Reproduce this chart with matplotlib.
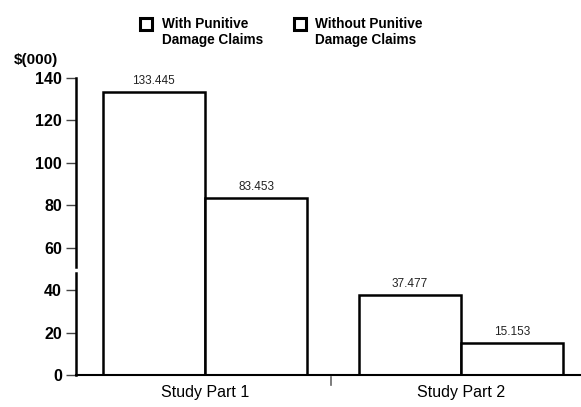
import numpy as np
import matplotlib
matplotlib.use("Agg")
import matplotlib.pyplot as plt
from matplotlib.lines import Line2D

plt.rcParams['font.family'] = ['Liberation Sans', 'DejaVu Sans']

# average award per case, $(000)
groups = ["Study Part 1", "Study Part 2"]
with_punitive = [133.445, 37.477]
without_punitive = [83.453, 15.153]
series_names = ["With Punitive\nDamage Claims", "Without Punitive\nDamage Claims"]
yticks = [0, 20, 40, 60, 80, 100, 120, 140]

fig = plt.figure(figsize=(5.81, 4.07), dpi=100)
ax = fig.add_axes([0.1308, 0.0786, 0.8692, 0.7298])

x = np.arange(len(groups))
w = 0.40
b1 = ax.bar(x - w / 2, with_punitive, w, color="white", edgecolor="black", linewidth=1.8)
b2 = ax.bar(x + w / 2, without_punitive, w, color="white", edgecolor="black", linewidth=1.8)

for bars, vals in [(b1, with_punitive), (b2, without_punitive)]:
    for r, v in zip(bars, vals):
        ax.text(r.get_x() + r.get_width() / 2, v + 2.5, f"{v:.3f}", ha="center", va="bottom",
                fontsize=8.5, color="#222222")

ax.set_xlim(-0.504, 1.469)
ax.set_ylim(0, 140)
ax.set_yticks(yticks)
ax.set_yticklabels([str(t) for t in yticks], fontsize=11.5, fontweight="bold")
ax.set_xticks(x)
ax.set_xticklabels(groups, fontsize=11.5)
ax.tick_params(axis="x", length=0, pad=7)
ax.tick_params(axis="y", length=7, width=1.0, direction="out", pad=3, color="#444444")

for s in ["top", "right", "left"]:
    ax.spines[s].set_visible(False)
ax.spines["bottom"].set_linewidth(1.5)

# y axis drawn in two pieces with a small break between 40 and 60
ax.plot([0, 0], [0, 48], transform=ax.get_yaxis_transform(), color="black", lw=1.8,
        clip_on=False)
ax.plot([0, 0], [51, 140], transform=ax.get_yaxis_transform(), color="black", lw=1.8,
        clip_on=False)
# small mark under the x axis between the two groups
ax.plot([0.492, 0.492], [-1, -4.5], color="#666666", lw=1.2, clip_on=False)

fig.text(14 / 581, 1 - 60 / 407, "$(000)", fontsize=11, fontweight="bold",
         ha="left", va="center")

# legend: hollow square + two-line label
sq = dict(marker="s", markersize=8, markerfacecolor="white",
          markeredgecolor="black", markeredgewidth=2.2)
for (mx, tx), name in zip([(146, 162), (300, 315)], series_names):
    fig.add_artist(Line2D([mx / 581], [1 - 24 / 407], transform=fig.transFigure, **sq))
    fig.text(tx / 581, 1 - 17 / 407, name, fontsize=9.8, fontweight="bold",
             ha="left", va="top", linespacing=1.15)

fig.savefig("out.png", dpi=100)
